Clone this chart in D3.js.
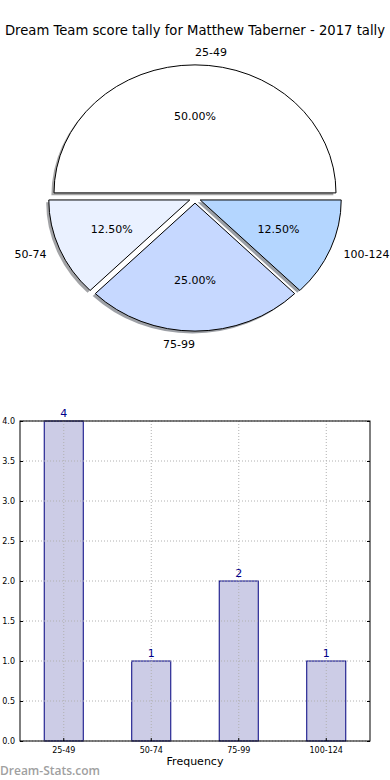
<!DOCTYPE html>
<html>
<head>
<meta charset="utf-8">
<script src="https://cdn.jsdelivr.net/npm/d3@7"></script>
<style>
  body { margin: 0; background: #fff; }
  svg { display: block; font-family: "DejaVu Sans", sans-serif; }
</style>
</head>
<body>
<svg id="chart" width="390" height="780"></svg>
<script>
// score bands and how many games fell in each
var categories = ['25-49', '50-74', '75-99', '100-124'];
var counts = [4, 1, 2, 1];
var sliceColors = ['#ffffff', '#eaf1ff', '#c6d8ff', '#b4d6ff'];
var yTicks = [0, 0.5, 1, 1.5, 2, 2.5, 3, 3.5, 4];
var title = 'Dream Team score tally for Matthew Taberner - 2017 tally';

var svg = d3.select('#chart');

svg.append('text')
  .attr('x', 195).attr('y', 35)
  .attr('text-anchor', 'middle')
  .attr('font-size', 13.2)
  .attr('fill', '#000')
  .text(title);

// ---- pie ----
var cx = 195, cy = 198, rx = 141, ry = 128;
var explode = 0.04;
var total = d3.sum(counts);

var pie = d3.pie().sort(null)
  .startAngle(Math.PI / 2)
  .endAngle(Math.PI / 2 - 2 * Math.PI);
var arcs = pie(counts);
var arc = d3.arc().innerRadius(0).outerRadius(1);

function offset(d, k) {
  var mid = (d.startAngle + d.endAngle) / 2;
  return [cx + Math.sin(mid) * k * rx, cy - Math.cos(mid) * k * ry];
}

var pieG = svg.append('g');

// shadows first so wedges sit on top
pieG.selectAll('path.shadow')
  .data(arcs)
  .enter().append('path')
  .attr('class', 'shadow')
  .attr('d', arc)
  .attr('transform', function(d) {
    var p = offset(d, explode);
    return 'translate(' + (p[0] - 2.6) + ',' + (p[1] + 2.4) + ') scale(' + rx + ',' + ry + ')';
  })
  .attr('fill', function(d, i) {
    var c = d3.rgb(sliceColors[i]);
    return d3.rgb(c.r * 0.3, c.g * 0.3, c.b * 0.3);
  })
  .attr('opacity', 0.5);

pieG.selectAll('path.wedge')
  .data(arcs)
  .enter().append('path')
  .attr('class', 'wedge')
  .attr('d', arc)
  .attr('transform', function(d) {
    var p = offset(d, explode);
    return 'translate(' + p[0] + ',' + p[1] + ') scale(' + rx + ',' + ry + ')';
  })
  .attr('fill', function(d, i) { return sliceColors[i]; })
  .attr('stroke', '#000')
  .attr('stroke-width', 1)
  .attr('vector-effect', 'non-scaling-stroke');

// percentages inside
pieG.selectAll('text.pct')
  .data(arcs)
  .enter().append('text')
  .attr('class', 'pct')
  .attr('x', function(d) {
    var mid = (d.startAngle + d.endAngle) / 2, p = offset(d, explode);
    return p[0] + Math.sin(mid) * 0.6 * rx;
  })
  .attr('y', function(d) {
    var mid = (d.startAngle + d.endAngle) / 2, p = offset(d, explode);
    return p[1] - Math.cos(mid) * 0.6 * ry;
  })
  .attr('dy', '0.35em')
  .attr('text-anchor', 'middle')
  .attr('font-size', 11)
  .text(function(d) { return (d.value / total * 100).toFixed(2) + '%'; });

// category labels outside (matplotlib style alignment)
pieG.selectAll('text.lbl')
  .data(arcs)
  .enter().append('text')
  .attr('class', 'lbl')
  .attr('x', function(d) {
    var mid = (d.startAngle + d.endAngle) / 2, p = offset(d, explode);
    return p[0] + Math.sin(mid) * 1.1 * rx;
  })
  .attr('y', function(d) {
    var mid = (d.startAngle + d.endAngle) / 2, p = offset(d, explode);
    return p[1] - Math.cos(mid) * 1.1 * ry;
  })
  .attr('dy', '0.35em')
  .attr('text-anchor', function(d) {
    var mid = (d.startAngle + d.endAngle) / 2;
    return Math.sin(mid) > 1e-9 ? 'start' : (Math.sin(mid) < -1e-9 ? 'end' : (Math.cos(mid) > 0 ? 'start' : 'end'));
  })
  .attr('font-size', 11)
  .text(function(d, i) { return categories[i]; });

// ---- bar chart ----
var plotLeft = 20, plotRight = 370, plotTop = 421, plotBottom = 741;

var x = d3.scaleBand().domain(categories)
  .range([plotLeft, plotRight])
  .paddingInner(0.554).paddingOuter(0.277);
var y = d3.scaleLinear().domain([0, 4]).range([plotBottom, plotTop]);

var barG = svg.append('g');

barG.selectAll('rect.bar')
  .data(counts)
  .enter().append('rect')
  .attr('class', 'bar')
  .attr('x', function(d, i) { return x(categories[i]); })
  .attr('y', function(d) { return y(d); })
  .attr('width', x.bandwidth())
  .attr('height', function(d) { return y(0) - y(d); })
  .attr('fill', '#ccccE6')
  .attr('stroke', '#000080')
  .attr('stroke-width', 1);

// dotted grid over the bars
barG.selectAll('line.hgrid')
  .data(yTicks)
  .enter().append('line')
  .attr('class', 'hgrid')
  .attr('x1', plotLeft).attr('x2', plotRight)
  .attr('y1', function(d) { return y(d); })
  .attr('y2', function(d) { return y(d); })
  .attr('stroke', '#b0b0b0')
  .attr('stroke-dasharray', '1,2');

barG.selectAll('line.vgrid')
  .data(categories)
  .enter().append('line')
  .attr('class', 'vgrid')
  .attr('x1', function(d) { return x(d) + x.bandwidth() / 2; })
  .attr('x2', function(d) { return x(d) + x.bandwidth() / 2; })
  .attr('y1', plotTop).attr('y2', plotBottom)
  .attr('stroke', '#b0b0b0')
  .attr('stroke-dasharray', '1,2');

// axes
var yAxisL = d3.axisLeft(y).tickValues(yTicks).tickSize(-3).tickPadding(5)
  .tickFormat(d3.format('.1f'));
var yAxisR = d3.axisRight(y).tickValues(yTicks).tickSize(-3).tickFormat('');
var xAxisB = d3.axisBottom(x).tickSize(-3).tickPadding(6);

var gl = barG.append('g').attr('transform', 'translate(' + plotLeft + ',0)').call(yAxisL);
var gr = barG.append('g').attr('transform', 'translate(' + plotRight + ',0)').call(yAxisR);
var gb = barG.append('g').attr('transform', 'translate(0,' + plotBottom + ')').call(xAxisB);

[gl, gr, gb].forEach(function(g) {
  g.select('.domain').remove();
  g.selectAll('.tick line').attr('stroke', '#000');
  g.selectAll('.tick text').attr('font-size', 8).attr('fill', '#000')
    .attr('font-family', '"DejaVu Sans", sans-serif');
});

barG.append('rect')
  .attr('x', plotLeft).attr('y', plotTop)
  .attr('width', plotRight - plotLeft).attr('height', plotBottom - plotTop)
  .attr('fill', 'none').attr('stroke', '#000').attr('stroke-width', 1);

barG.selectAll('text.val')
  .data(counts)
  .enter().append('text')
  .attr('class', 'val')
  .attr('x', function(d, i) { return x(categories[i]) + x.bandwidth() / 2; })
  .attr('y', function(d) { return y(d) - 4; })
  .attr('text-anchor', 'middle')
  .attr('font-size', 11)
  .attr('fill', '#00008b')
  .text(function(d) { return d; });

svg.append('text')
  .attr('x', 195).attr('y', 765)
  .attr('text-anchor', 'middle')
  .attr('font-size', 11)
  .text('Frequency');

svg.append('text')
  .attr('x', 0).attr('y', 775)
  .attr('font-family', '"Open Sans", sans-serif')
  .attr('font-weight', 600)
  .attr('font-size', 12)
  .attr('fill', '#a0a0a0')
  .text('Dream-Stats.com');
</script>
</body>
</html>
